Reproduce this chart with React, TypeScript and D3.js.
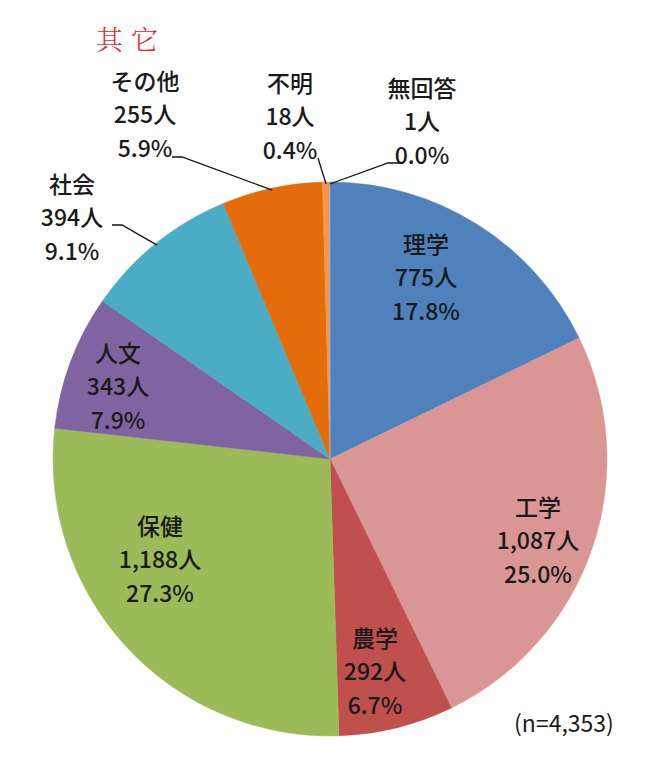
import React from "react";
import * as d3 from "d3";

// ---- data ----
const categories = ["理学", "工学", "農学", "保健", "人文", "社会", "その他", "不明", "無回答"];
const counts = [775, 1087, 292, 1188, 343, 394, 255, 18, 1];
const totalLabel = "(n=4,353)";
const title = "其它";

// ---- styles ----
const colors = ["#4f81bd", "#d99694", "#c0504d", "#9bbb59", "#8064a2", "#4bacc6", "#e46c0a", "#f79646", "#8eb4e3"];

// ---- label layout (offsets from pie centre) ----
type Lay = { dx: number; dy: number; leader?: [number, number][] };
const labelLayout: Lay[] = [
  { dx: 96, dy: -183 },
  { dx: 208, dy: 80 },
  { dx: 45, dy: 211 },
  { dx: -170, dy: 99 },
  { dx: -212, dy: -74 },
  { dx: -258, dy: -243, leader: [[-218, -234], [-208, -234]] },
  { dx: -185, dy: -346, leader: [[-158, -302], [-148, -302]] },
  { dx: -40, dy: -344, leader: [[-12, -301]] },
  { dx: 92, dy: -339, leader: [[70, -296], [58, -296]] },
];

const W = 645;
const H = 768;
const cx = 330;
const cy = 459;
const R = 277;
const FONT = "'Noto Sans CJK JP', 'Noto Sans CJK SC', sans-serif";

export default function App() {
  const total = d3.sum(counts);
  const pie = d3
    .pie<number>()
    .sort(null)
    .value((d) => d)
    .startAngle(0)
    .endAngle(2 * Math.PI);
  const arcs = pie(counts);
  const arc = d3.arc<d3.PieArcDatum<number>>().innerRadius(0).outerRadius(R);
  const fmtCount = d3.format(",");
  const line = d3.line();
  const lh = 33.5;

  return (
    <svg
      width={W}
      height={H}
      viewBox={`0 0 ${W} ${H}`}
      style={{ position: "absolute", left: 0, top: 0, background: "#fff" }}
    >
      <rect width={W} height={H} fill="#fff" />
      <text
        x={131}
        y={38}
        textAnchor="middle"
        dominantBaseline="central"
        fill="#e0262b"
        fontSize={27}
        fontWeight={300}
        letterSpacing={8}
        fontFamily="'Noto Serif CJK SC', 'Noto Sans CJK SC', serif"
      >
        {title}
      </text>
      <g transform={`translate(${cx},${cy})`}>
        {arcs.map((a, i) => (
          <path key={i} d={arc(a) || ""} fill={colors[i]} stroke={colors[i]} strokeWidth={0.5} />
        ))}
        {arcs.map((a, i) => {
          const lay = labelLayout[i];
          if (!lay.leader) return null;
          const mid = (a.startAngle + a.endAngle) / 2;
          const end: [number, number] = [Math.sin(mid) * (R - 2), -Math.cos(mid) * (R - 2)];
          const pts = [...lay.leader, end];
          return <path key={"l" + i} d={line(pts) || ""} fill="none" stroke="#111" strokeWidth={1.3} />;
        })}
        {arcs.map((a, i) => {
          const lay = labelLayout[i];
          const pct = ((counts[i] / total) * 100).toFixed(1) + "%";
          const lines = [categories[i], fmtCount(counts[i]) + "人", pct];
          return (
            <g key={"t" + i} fontFamily={FONT} fontSize={23} fontWeight={500} fill="#1a1a1a" textAnchor="middle">
              {lines.map((s, j) => (
                <text key={j} x={lay.dx} y={lay.dy + (j - 1) * lh} dominantBaseline="central">
                  {s}
                </text>
              ))}
            </g>
          );
        })}
      </g>
      <text
        x={564}
        y={722}
        textAnchor="middle"
        dominantBaseline="central"
        fontFamily={FONT}
        fontSize={23}
        fill="#1a1a1a"
      >
        {totalLabel}
      </text>
    </svg>
  );
}
